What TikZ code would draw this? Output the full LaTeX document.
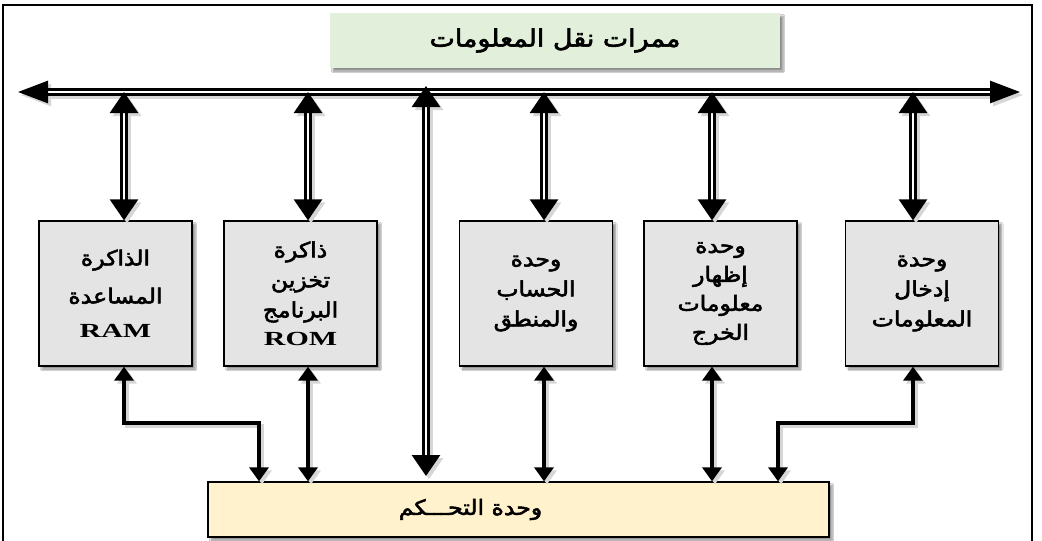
\documentclass[tikz,border=0pt]{standalone}
\usepackage{fontspec}
\newfontfamily\arabicfont[Script=Arabic,FakeBold=2.5]{DejaVu Sans}
\newfontfamily\latinserif{Liberation Serif}
\TeXXeTstate=1
\usetikzlibrary{arrows.meta,shadows.blur}

% one right-to-left line of Arabic, widened like the original lettering
\newcommand\arline[1]{\scalebox{1.12}[1]{\arabicfont\beginR #1\endR}}
\newcommand\latline[1]{\scalebox{1.5}[1]{\fontsize{20}{20}\latinserif\bfseries #1}}

\definecolor{busgreen}{HTML}{E2EFDA}
\definecolor{unitgrey}{HTML}{E4E4E4}
\definecolor{ctlyellow}{HTML}{FFF2CC}

\tikzset{
  softshadow/.style={blur shadow={shadow xshift=3pt,shadow yshift=-3pt,
      shadow blur steps=6,shadow opacity=45}},
  unitbox/.style={draw=black,line width=1.3pt,fill=unitgrey,softshadow,
      minimum width=153pt,minimum height=145pt,inner sep=0pt,
      align=center,font=\fontsize{21}{30}\selectfont},
  titlebox/.style={fill=busgreen,softshadow,minimum width=450pt,
      minimum height=55pt,inner sep=0pt,font=\fontsize{24}{26}\selectfont},
  ctlbox/.style={draw=black,line width=1.3pt,fill=ctlyellow,softshadow,
      minimum width=621pt,minimum height=55pt,inner sep=0pt,
      font=\fontsize{21}{24}\selectfont},
  linkcol/.style={draw=black},
  gapcol/.style={double=white},
  busline/.style={linkcol,gapcol,double distance=2pt,line width=2.8pt,
      {Triangle[length=30pt,width=22pt]}-{Triangle[length=30pt,width=22pt]}},
  dbllink/.style={linkcol,gapcol,double distance=2.5pt,line width=2.8pt,
      {Triangle[length=21pt,width=28pt]}-{Triangle[length=21pt,width=28pt]}},
  ctllink/.style={linkcol,line width=4pt,
      {Triangle[length=14pt,width=19pt]}-{Triangle[length=14pt,width=19pt]}},
}

% every connector of the block diagram
\newcommand\drawlinks{%
  \draw[busline] (busL) -- (busR);
  \draw[dbllink] (tapRam) -- (tapRam |- ram.north);
  \draw[dbllink] (tapRom) -- (tapRom |- rom.north);
  \draw[dbllink] (tapAlu) -- (tapAlu |- alu.north);
  \draw[dbllink] (tapOut) -- (tapOut |- out.north);
  \draw[dbllink] (tapInp) -- (tapInp |- inp.north);
  \draw[dbllink] (tapMid) -- (midEnd);
  \draw[ctllink] (tapRam |- ram.south) |- (ramDrop) -- (ramDrop |- ctl.north);
  \draw[ctllink] (tapRom |- rom.south) -- (tapRom |- ctl.north);
  \draw[ctllink] (tapAlu |- alu.south) -- (tapAlu |- ctl.north);
  \draw[ctllink] (tapOut |- out.south) -- (tapOut |- ctl.north);
  \draw[ctllink] (tapInp |- inp.south) |- (inpDrop) -- (inpDrop |- ctl.north);
}

\begin{document}
\begin{tikzpicture}[x=1pt,y=-1pt]
\useasboundingbox (0,0) rectangle (1042,541);
\fill[white] (0,0) rectangle (1042,541);

% outer frame, open at the foot of the page
\draw[line width=1.8pt] (3,545) -- (3,5) -- (1032,5) -- (1032,545);

% title of the data bus
\node[titlebox] (title) at (555,40.5) {\arline{ممرات نقل المعلومات}};

% functional units
\node[unitbox,font=\fontsize{21}{38}\selectfont] (ram) at (115.5,293.5)
  {\arline{الذاكرة}\\\arline{المساعدة}\\[-4pt]\latline{RAM}};
\node[unitbox,font=\fontsize{21}{32}\selectfont] (rom) at (300.5,293.5)
  {\arline{ذاكرة}\\[-2pt]\arline{تخزين}\\[-2pt]\arline{البرنامج}\\[-4pt]\latline{ROM}};
\node[unitbox] (alu) at (536,293.5)
  {\arline{وحدة}\\\arline{الحساب}\\\arline{والمنطق}};
\node[unitbox,font=\fontsize{21}{29}\selectfont] (out) at (720.5,293.5)
  {\arline{وحدة}\\\arline{إظهار}\\\arline{معلومات}\\\arline{الخرج}};
\node[unitbox] (inp) at (922,293.5)
  {\arline{وحدة}\\\arline{إدخال}\\\arline{المعلومات}};

% control unit, its label set left of centre
\node[ctlbox] (ctl) at (518.5,509.5) {\arline{وحدة التحـــكم}\rule{96pt}{0pt}};

% bus end points, taps and bends
\coordinate (busL) at (18,92);
\coordinate (busR) at (1020,92);
\coordinate (tapRam) at (124,92);
\coordinate (tapRom) at (308,92);
\coordinate (tapMid) at (426,86);
\coordinate (tapAlu) at (544,92);
\coordinate (tapOut) at (712,92);
\coordinate (tapInp) at (913,92);
\coordinate (midEnd) at (426,476);
\coordinate (ramDrop) at (259,423);
\coordinate (inpDrop) at (778,423);

% soft shadows of the connectors, then the connectors
\begin{scope}[transform canvas={xshift=3pt,yshift=-3pt},
    linkcol/.style={draw=black!16},gapcol/.style={double=black!16}]
  \drawlinks
\end{scope}
\drawlinks
\end{tikzpicture}
\end{document}
